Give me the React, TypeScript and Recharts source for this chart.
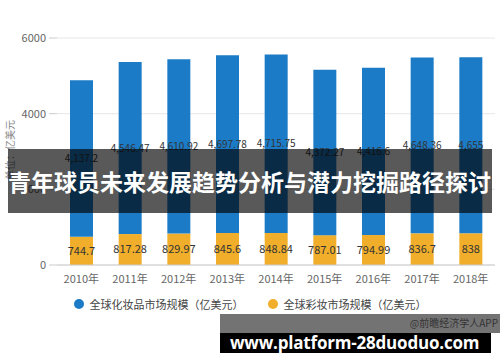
import { Bar, BarChart, CartesianGrid, LabelList, XAxis, YAxis } from "recharts";

const years = ["2010年", "2011年", "2012年", "2013年", "2014年", "2015年", "2016年", "2017年", "2018年"];
const cosmetics = [4137.2, 4546.47, 4610.92, 4697.78, 4715.75, 4372.27, 4416.6, 4648.36, 4655];
const makeup = [744.7, 817.28, 829.97, 845.6, 848.84, 787.01, 794.99, 836.7, 838];
const yTicks = [0, 2000, 4000, 6000];

const BLUE = "#1b7bc6";
const YELLOW = "#f0ae2a";
const FONT = '"Noto Sans CJK SC", "Noto Sans", sans-serif';

const rows = years.map((year, i) => ({ year, cosmetics: cosmetics[i], makeup: makeup[i] }));

const fmt = (v: unknown) =>
  typeof v === "number" ? v.toLocaleString("en-US", { maximumFractionDigits: 2 }) : String(v ?? "");

const legendItems = [
  { label: "全球化妆品市场规模（亿美元）", color: BLUE },
  { label: "全球彩妆市场规模（亿美元）", color: YELLOW },
];

export default function App() {
  return (
    <div style={{ position: "absolute", left: 0, top: 0, width: 500, height: 362, background: "#fff", overflow: "hidden", fontFamily: FONT }}>
      <BarChart width={500} height={362} data={rows} margin={{ top: 38, right: 5, bottom: 67, left: 0 }}>
        <CartesianGrid stroke="#e6e6e6" vertical={false} />
        <XAxis
          dataKey="year"
          height={30}
          tick={{ fontSize: 11, fill: "#666", fontFamily: FONT }}
          axisLine={{ stroke: "#ccc" }}
          tickLine={false}
          tickMargin={4}
        />
        <YAxis
          width={57}
          domain={[0, 6000]}
          ticks={yTicks}
          tick={{ fontSize: 11, fill: "#666", fontFamily: FONT }}
          axisLine={false}
          tickLine={{ stroke: "#ccc" }}
          tickSize={8}
          tickMargin={3}
        />
        <Bar dataKey="makeup" stackId="a" fill={YELLOW} barSize={23} isAnimationActive={false}>
          <LabelList dataKey="makeup" position="inside" formatter={fmt} style={{ fontSize: 11, fill: "#333", fontFamily: FONT }} />
        </Bar>
        <Bar dataKey="cosmetics" stackId="a" fill={BLUE} barSize={23} isAnimationActive={false}>
          <LabelList dataKey="cosmetics" position="inside" formatter={fmt} style={{ fontSize: 10, fill: "#333", fontFamily: FONT }} />
        </Bar>
      </BarChart>

      {/* rotated unit label */}
      <div
        style={{
          position: "absolute", left: 10, top: 150, transform: "translate(-50%, -50%) rotate(-90deg)",
          fontSize: 10, color: "#888", whiteSpace: "nowrap", lineHeight: "12px",
        }}
      >
        单位：亿美元
      </div>

      {/* legend */}
      <div
        style={{
          position: "absolute", left: 0, top: 296, width: 500, display: "flex", justifyContent: "center",
          gap: 24, fontSize: 11, color: "#444", lineHeight: "16px",
        }}
      >
        {legendItems.map((it) => (
          <div key={it.label} style={{ display: "flex", alignItems: "center", gap: 6 }}>
            <span style={{ width: 10, height: 10, borderRadius: 5, background: it.color, display: "inline-block" }} />
            <span>{it.label}</span>
          </div>
        ))}
      </div>

      {/* dark title banner laid over the middle of the chart */}
      <div
        style={{
          position: "absolute", left: 8, top: 149, width: 484, height: 64,
          background: "rgba(0,0,0,0.65)", color: "#fff", fontWeight: 700, fontSize: 23,
          lineHeight: "64px", whiteSpace: "nowrap",
        }}
      >
        青年球员未来发展趋势分析与潜力挖掘路径探讨
      </div>

      {/* bottom url banner */}
      <div style={{ position: "absolute", left: 220, top: 314, width: 280, height: 19, background: "rgba(0,0,0,0.55)" }}>
        <span style={{ position: "absolute", right: 2, top: 2, fontSize: 10, color: "#333", lineHeight: "14px" }}>
          @前瞻经济学人APP
        </span>
      </div>
      <div
        style={{
          position: "absolute", left: 220, top: 333, width: 271, height: 20, background: "#000",
          color: "#fff", fontWeight: 700, fontSize: 17, lineHeight: "20px", paddingLeft: 10,
          boxSizing: "border-box", whiteSpace: "nowrap", fontFamily: '"Open Sans", sans-serif',
          letterSpacing: -0.2,
        }}
      >
        www.platform-28duoduo.com
      </div>
    </div>
  );
}
